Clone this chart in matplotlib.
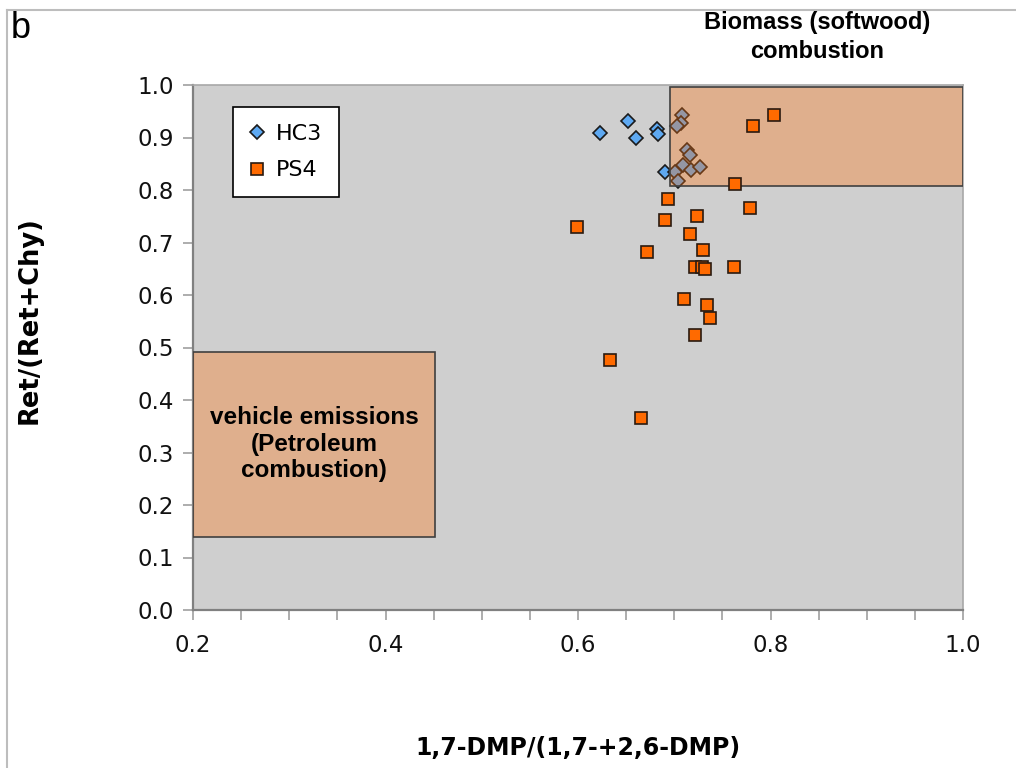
import matplotlib
matplotlib.use("Agg")
from matplotlib import pyplot as plt
from matplotlib.patches import Rectangle
from matplotlib.lines import Line2D
from matplotlib.ticker import MultipleLocator

# HC3 samples (diamonds)
hc3_x = [0.623, 0.652, 0.660, 0.682, 0.683, 0.690,
         0.708, 0.707, 0.703, 0.713, 0.716, 0.709, 0.717, 0.727, 0.701, 0.704]
hc3_y = [0.908, 0.932, 0.900, 0.917, 0.906, 0.834,
         0.942, 0.928, 0.921, 0.876, 0.867, 0.848, 0.838, 0.844, 0.835, 0.818]

# PS4 samples (squares)
ps4_x = [0.804, 0.782, 0.763, 0.779, 0.693, 0.690, 0.724, 0.599, 0.716, 0.730,
         0.672, 0.722, 0.729, 0.732, 0.762, 0.710, 0.734, 0.737, 0.722, 0.633, 0.665]
ps4_y = [0.942, 0.921, 0.811, 0.765, 0.783, 0.742, 0.750, 0.730, 0.716, 0.686,
         0.681, 0.654, 0.653, 0.650, 0.653, 0.592, 0.581, 0.557, 0.523, 0.476, 0.366]

# source regions: (x0, y0, x1, y1)
biomass_region = (0.696, 0.808, 1.0, 0.996)
vehicle_region = (0.2, 0.140, 0.451, 0.491)

x_ticks = [0.2, 0.4, 0.6, 0.8, 1.0]
y_ticks = [0.0, 0.1, 0.2, 0.3, 0.4, 0.5, 0.6, 0.7, 0.8, 0.9, 1.0]

fig = plt.figure(figsize=(10.16, 7.68), dpi=100)
ax = fig.add_axes([193 / 1016, 1 - 610 / 768, 770 / 1016, 525 / 768])
ax.set_facecolor("#CFCFCF")

ax.plot(hc3_x, hc3_y, linestyle="none", marker="D", markersize=7.6,
        markerfacecolor="#5EA9F2", markeredgecolor="#1A1A1A", markeredgewidth=1.2,
        label="HC3", zorder=2)
ax.plot(ps4_x, ps4_y, linestyle="none", marker="s", markersize=9.2,
        markerfacecolor="#FF6A00", markeredgecolor="#2A1A10", markeredgewidth=1.2,
        label="PS4", zorder=4)

# shaded source boxes (semi transparent so HC3 points look greyed inside)
for (x0, y0, x1, y1) in [biomass_region, vehicle_region]:
    box = Rectangle((x0, y0), x1 - x0, y1 - y0,
                    facecolor=(1.0, 115 / 255, 15 / 255, 0.34),
                    edgecolor="#404040", linewidth=1.2, zorder=3)
    ax.add_patch(box)

ax.text(0.326, 0.316, "vehicle emissions\n(Petroleum\ncombustion)",
        ha="center", va="center", fontsize=17.5, fontweight="bold",
        family="Liberation Sans", linespacing=1.2, zorder=5)

ax.set_xlim(0.2, 1.0)
ax.set_ylim(0.0, 1.0)
ax.set_xticks(x_ticks)
ax.set_xticklabels(["%.1f" % v for v in x_ticks])
ax.set_yticks(y_ticks)
ax.set_yticklabels(["%.1f" % v for v in y_ticks])
ax.xaxis.set_minor_locator(MultipleLocator(0.05))
ax.tick_params(axis="both", which="both", direction="out", length=7,
               color="#A0A0A0", width=1.2, labelsize=16.5, labelcolor="#111111")
ax.tick_params(axis="x", pad=10)
ax.tick_params(axis="y", pad=7)

for side in ["left", "bottom"]:
    ax.spines[side].set_color("#808080")
    ax.spines[side].set_linewidth(1.6)
for side in ["top", "right"]:
    ax.spines[side].set_color("#A8A8A8")
    ax.spines[side].set_linewidth(1.2)

leg = ax.legend(loc="upper left", bbox_to_anchor=(0.052, 0.958), borderaxespad=0,
                fancybox=False, framealpha=1, edgecolor="#000000", fontsize=16,
                handlelength=0.7, handletextpad=0.5, labelspacing=0.75, borderpad=0.75)
leg.get_frame().set_linewidth(1.2)
leg.set_zorder(6)

# outer labels
fig.text(817 / 1016, 1 - 37 / 768, "Biomass (softwood)\ncombustion", ha="center",
         va="center", fontsize=17, fontweight="bold", family="Liberation Sans",
         linespacing=1.35)
fig.text(30 / 1016, 1 - 320 / 768, "Ret/(Ret+Chy)", rotation=90, ha="center",
         va="center", fontsize=18.5, fontweight="bold")
fig.text(578 / 1016, 1 - 748 / 768, "1,7-DMP/(1,7-+2,6-DMP)", ha="center",
         va="center", fontsize=17, fontweight="bold")
fig.text(11 / 1016, 1 - 28 / 768, "b", ha="left", va="center", fontsize=26,
         family="Liberation Sans")

# thin frame lines at top and left of the image
fig.add_artist(Line2D([7 / 1016, 1.0], [1 - 10 / 768, 1 - 10 / 768],
                      color="#BDBDBD", linewidth=1.5))
fig.add_artist(Line2D([7 / 1016, 7 / 1016], [0.0, 1 - 10 / 768],
                      color="#BDBDBD", linewidth=1.5))

fig.savefig("out.png", dpi=100)
